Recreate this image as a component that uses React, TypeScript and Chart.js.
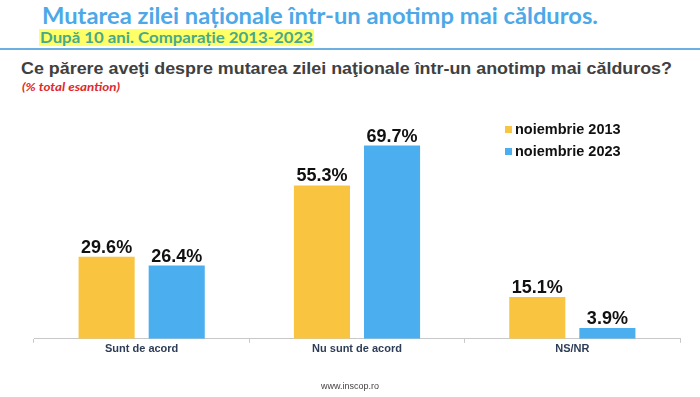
import React, { useEffect, useLayoutEffect, useRef } from "react";
import { Chart, registerables } from "chart.js";

Chart.register(...registerables);

const categories = ["Sunt de acord", "Nu sunt de acord", "NS/NR"];
const seriesNames = ["noiembrie 2013", "noiembrie 2023"];
const values2013 = [29.6, 55.3, 15.1];
const values2023 = [26.4, 69.7, 3.9];
const colors = ["#F9C440", "#4BAEEE"];

const titleText = "Mutarea zilei naționale într-un anotimp mai călduros.";
const subtitleText = "După 10 ani. Comparație 2013-2023";
const questionText = "Ce părere aveţi despre mutarea zilei naţionale într-un anotimp mai călduros?";
const noteText = "(% total esantion)";
const footerText = "www.inscop.ro";

function FitText(props: { text: string; width: number; style: React.CSSProperties }) {
  const ref = useRef<HTMLSpanElement>(null);
  useLayoutEffect(() => {
    const el = ref.current;
    if (!el) return;
    const fit = () => {
      el.style.transform = "none";
      const w = el.getBoundingClientRect().width;
      if (w > 0) el.style.transform = `scaleX(${props.width / w})`;
    };
    fit();
    if ((document as any).fonts && (document as any).fonts.ready) {
      (document as any).fonts.ready.then(fit);
    }
  }, [props.text, props.width]);
  return (
    <span
      ref={ref}
      style={{ position: "absolute", whiteSpace: "nowrap", transformOrigin: "left top", ...props.style }}
    >
      {props.text}
    </span>
  );
}

const valueLabels = {
  id: "valueLabels",
  afterDatasetsDraw(chart: any) {
    const ctx = chart.ctx;
    ctx.save();
    ctx.font = "bold 18px 'Liberation Sans', Arial, sans-serif";
    ctx.fillStyle = "#111111";
    ctx.textAlign = "center";
    ctx.textBaseline = "alphabetic";
    chart.data.datasets.forEach((ds: any, di: number) => {
      const meta = chart.getDatasetMeta(di);
      meta.data.forEach((bar: any, i: number) => {
        ctx.fillText(ds.data[i].toFixed(1) + "%", bar.x, bar.y - 4);
      });
    });
    ctx.restore();
  },
};

export default function App() {
  const canvasRef = useRef<HTMLCanvasElement>(null);

  useEffect(() => {
    const prevMargin = document.body.style.margin;
    document.body.style.margin = "0";
    const chart = new Chart(canvasRef.current!, {
      type: "bar",
      data: {
        labels: categories,
        datasets: [
          { label: seriesNames[0], data: values2013, backgroundColor: colors[0], categoryPercentage: 0.651, barPercentage: 0.8 },
          { label: seriesNames[1], data: values2023, backgroundColor: colors[1], categoryPercentage: 0.651, barPercentage: 0.8 },
        ],
      },
      options: {
        animation: false,
        responsive: false,
        layout: { padding: { top: 117, left: 34, right: 20, bottom: 41 } },
        plugins: { legend: { display: false }, tooltip: { enabled: false } },
        scales: {
          y: { display: false, min: 0, max: 80 },
          x: {
            grid: { display: true, drawOnChartArea: false, drawTicks: true, tickLength: 4, offset: true, color: "#c8c8c8" },
            border: { display: true, color: "#c8c8c8" },
            ticks: {
              padding: 0,
              color: "#2E3D57",
              font: { family: "'Liberation Sans', Arial, sans-serif", size: 11, weight: "bold" },
            },
          },
        },
      },
      plugins: [valueLabels],
    });
    return () => {
      chart.destroy();
      document.body.style.margin = prevMargin;
    };
  }, []);

  return (
    <div style={{ position: "fixed", left: 0, top: 0, width: 700, height: 397, background: "#ffffff", overflow: "hidden" }}>
      <FitText
        text={titleText}
        width={556}
        style={{ left: 42, top: 3, fontFamily: "Lato, sans-serif", fontWeight: "bold", fontSize: 22, color: "#4DA8E8", lineHeight: "26px" }}
      />
      <div style={{ position: "absolute", left: 39, top: 29, width: 275, height: 17, background: "#FFFF66" }} />
      <FitText
        text={subtitleText}
        width={273}
        style={{ left: 40, top: 28, fontFamily: "Lato, sans-serif", fontWeight: "bold", fontSize: 15.5, color: "#47A98A", lineHeight: "18px" }}
      />
      <div style={{ position: "absolute", left: 0, top: 48, width: 700, height: 2, background: "#6CB0E2" }} />
      <FitText
        text={questionText}
        width={651}
        style={{ left: 21, top: 58, fontFamily: "'Liberation Sans', Arial, sans-serif", fontWeight: "bold", fontSize: 16.5, color: "#404040", lineHeight: "20px" }}
      />
      <FitText
        text={noteText}
        width={98}
        style={{ left: 22, top: 79, fontFamily: "Lato, sans-serif", fontStyle: "italic", fontWeight: "bold", fontSize: 12, color: "#E02A2A", lineHeight: "15px" }}
      />
      <canvas ref={canvasRef} width={700} height={397} style={{ position: "absolute", left: 0, top: 0, width: 700, height: 397 }} />
      <div style={{ position: "absolute", left: 505, top: 118 }}>
        {seriesNames.map((n, i) => (
          <div key={n} style={{ display: "flex", alignItems: "center", height: 22 }}>
            <span style={{ display: "inline-block", width: 7, height: 7, background: colors[i], marginRight: 3 }} />
            <span style={{ fontFamily: "'Liberation Sans', Arial, sans-serif", fontWeight: "bold", fontSize: 14.5, color: "#111111" }}>{n}</span>
          </div>
        ))}
      </div>
      <div style={{ position: "absolute", left: 0, width: 700, top: 381, textAlign: "center", fontFamily: "'Liberation Sans', Arial, sans-serif", fontSize: 9, color: "#444444" }}>
        {footerText}
      </div>
    </div>
  );
}
